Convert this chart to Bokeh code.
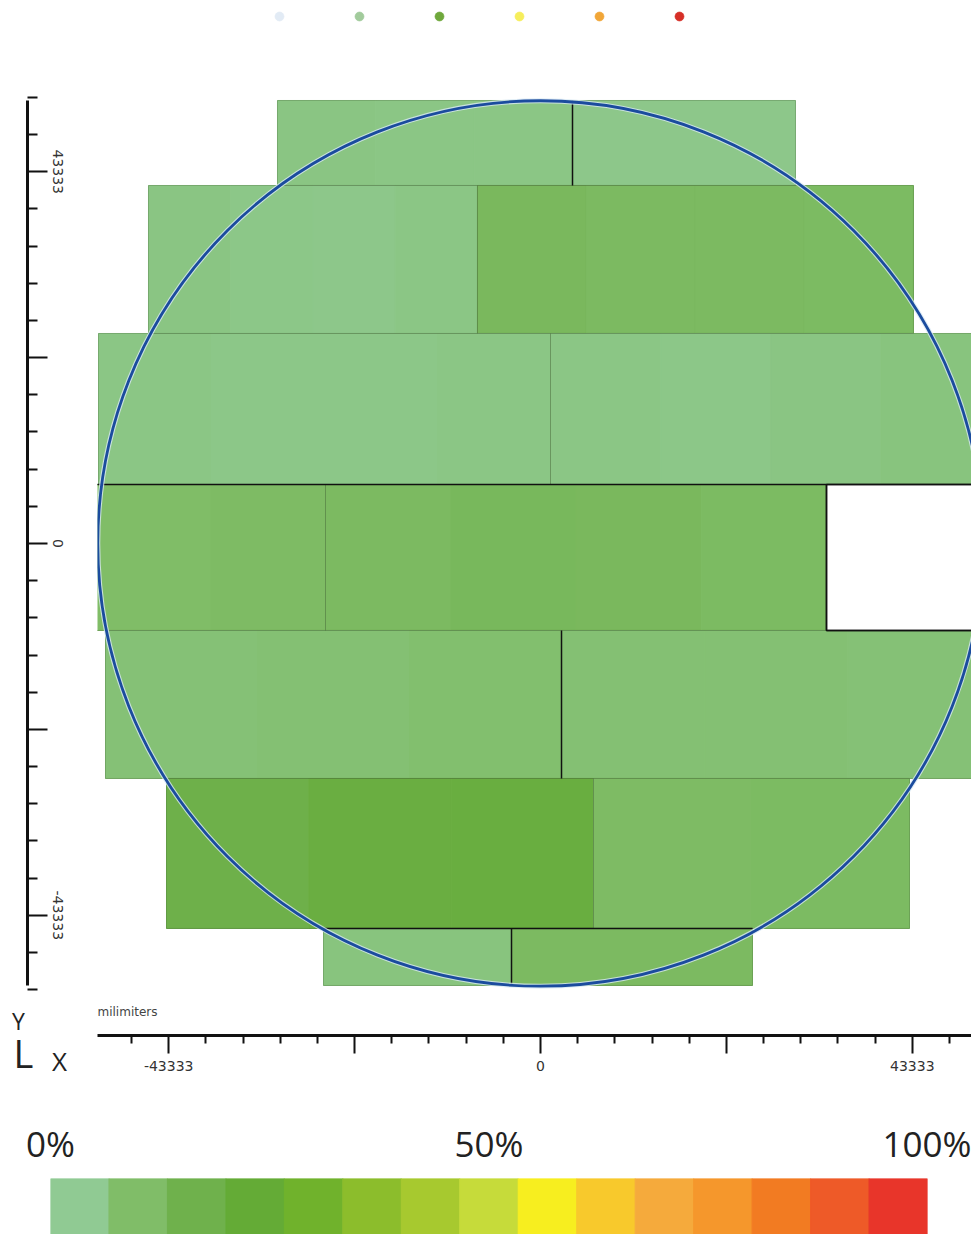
import numpy as np
from bokeh.plotting import figure
from bokeh.models import (Range1d, FactorRange, LinearAxis, FixedTicker, Label,
                          LinearColorMapper, ColumnDataSource, PrintfTickFormatter)
from bokeh.transform import transform
from bokeh.layouts import column, row
from bokeh.embed import file_html
from bokeh.resources import INLINE

# ---------------- data ----------------
legend_bins = ["bin 1", "bin 2", "bin 3", "bin 4", "bin 5", "bin 6"]
legend_colors = ["#e2ebf5", "#a2cb9c", "#6fa83c", "#f6ee5c", "#f1a638", "#d62f27"]

scale_colors = ["#90ca93", "#80bd68", "#6fb14c", "#64ab36", "#70b22c",
                "#8cbd2c", "#a7c92f", "#c6db3a", "#f7ee1f", "#f8c92c",
                "#f5aa3c", "#f5972c", "#f27b22", "#ee5a28", "#e8352a"]
scale_ticks = [0, 50, 100]

# exposure-field rows (y extents)
row_top = [51632, 41725, 24476, 6876, -10140, -27389, -44872]
row_bottom = [41725, 24476, 6876, -10140, -27389, -44872, -51515]

# fields: row index, x extent, per-column fill percentage
field_row = [0, 0, 1, 1, 2, 2, 3, 3, 4, 4, 5, 5, 6, 6]
field_left = [-30653, 3730, -45688, -7343, -51515, 1166, -51748, -25058,
              -50699, 2448, -43590, 6177, -25291, -3380]
field_right = [3730, 29720, -7343, 43473, 1166, 52500, -25058, 33333,
               2448, 52500, 6177, 43007, -3380, 24709]
field_pct = [[6.0, 5.8, 5.5], [5.0, 4.8],
             [6.0, 5.2, 4.8, 5.8], [12.5, 12.0, 12.0, 11.5],
             [5.5, 5.2, 5.2, 5.5], [5.6, 5.2, 6.0, 6.8],
             [10.5, 11.0], [12.0, 13.0, 12.5, 11.5],
             [8.0, 8.3, 9.0], [8.5, 8.3, 8.0],
             [17.5, 20.0, 20.5], [11.0, 11.5],
             [7.0], [12.0]]

# missing field (no data)
missing_row = [3]
missing_left = [33333]
missing_right = [52500]

# stitched-field boundaries
seg_x0 = [3730, -51748, 33333, 33333, 2448, -25291, -3380]
seg_y0 = [41725, 6876, -10140, -10140, -27389, -44872, -51515]
seg_x1 = [3730, 52500, 33333, 52500, 2448, 24709, -3380]
seg_y1 = [51632, 6876, 6876, -10140, -10140, -44872, -44872]

wafer_radius = 51600

major_ticks = [-43333, -21666, 0, 21666, 43333]
minor_ticks = [round(k * 4333.3) for k in range(-12, 13) if k % 5 != 0]

# ---------------- colour scale ----------------
def hex2rgb(h):
    return [int(h[i:i + 2], 16) for i in (1, 3, 5)]

anchor_pos = [(i + 0.5) * 100 / len(scale_colors) for i in range(len(scale_colors))]
anchor_rgb = np.array([hex2rgb(c) for c in scale_colors], dtype=float)
fine_palette = []
for k in range(256):
    v = k / 255 * 100
    rgb = [np.interp(v, anchor_pos, anchor_rgb[:, j]) for j in range(3)]
    fine_palette.append("#%02x%02x%02x" % tuple(int(round(c)) for c in rgb))
mapper = LinearColorMapper(palette=fine_palette, low=0, high=100)

# build band cells from fields
bx0, bx1, by0, by1, bval = [], [], [], [], []
for r, x0, x1, vals in zip(field_row, field_left, field_right, field_pct):
    edges = np.linspace(x0, x1, len(vals) + 1)
    for i, v in enumerate(vals):
        bx0.append(edges[i]); bx1.append(edges[i + 1])
        by0.append(row_bottom[r]); by1.append(row_top[r]); bval.append(v)
bands = ColumnDataSource(dict(left=bx0, right=bx1, bottom=by0, top=by1, pct=bval))
fields = ColumnDataSource(dict(left=field_left, right=field_right,
                               bottom=[row_bottom[r] for r in field_row],
                               top=[row_top[r] for r in field_row]))

# ---------------- ranges ----------------
x_range = Range1d(-51632, 50233)
y_range = Range1d(-57343, 52214)      # main map frame
y_range_axis = Range1d(-53847, 52214)  # y-axis strip (same scale, shorter)

TOP = 63

# ---------------- main wafer map ----------------
p = figure(width=874, height=1058, x_range=x_range, y_range=y_range,
           x_axis_type=None, y_axis_type=None, output_backend="svg",
           toolbar_location=None, min_border_left=0, min_border_right=0,
           min_border_top=TOP, min_border_bottom=55)
p.outline_line_color = None
p.background_fill_color = "white"
p.border_fill_color = "white"

p.quad(left="left", right="right", bottom="bottom", top="top", source=bands,
       fill_color=transform("pct", mapper), line_color=transform("pct", mapper),
       line_width=1)
p.quad(left="left", right="right", bottom="bottom", top="top", source=fields,
       fill_color=None, line_color="#4a6a3a", line_alpha=0.3, line_width=1)
p.quad(left=missing_left, right=missing_right,
       bottom=[row_bottom[r] for r in missing_row],
       top=[row_top[r] for r in missing_row],
       fill_color="white", line_color="#111111", line_width=1.5)
p.segment(x0=seg_x0, y0=seg_y0, x1=seg_x1, y1=seg_y1,
          line_color="#111111", line_width=1.5)
p.ellipse(x=[0], y=[0], width=[2 * wafer_radius], height=[2 * wafer_radius],
          fill_color=None, line_color="#d8e8f4", line_width=5, line_alpha=0.8)
p.ellipse(x=[0], y=[0], width=[2 * wafer_radius], height=[2 * wafer_radius],
          fill_color=None, line_color="#1b4c9e", line_width=2.8)

xaxis = LinearAxis(ticker=FixedTicker(ticks=major_ticks, minor_ticks=minor_ticks),
                   bounds=(x_range.start, x_range.end),
                   major_label_overrides={-21666: "", 21666: "", -43333: "-43333"})
xaxis.axis_line_width = 3
xaxis.axis_line_color = "#111111"
xaxis.major_tick_out = 18
xaxis.major_tick_in = 0
xaxis.minor_tick_out = 8
xaxis.minor_tick_in = 0
xaxis.major_tick_line_width = 2
xaxis.minor_tick_line_width = 2
xaxis.major_tick_line_color = "#111111"
xaxis.minor_tick_line_color = "#111111"
xaxis.major_label_text_font = "DejaVu Sans"
xaxis.major_label_text_font_size = "14px"
xaxis.major_label_text_color = "#333333"
xaxis.major_label_standoff = 7
p.add_layout(xaxis, "below")

p.add_layout(Label(x=x_range.start, y=-54546, text="milimiters", text_align="left",
                   text_baseline="alphabetic", text_font="DejaVu Sans",
                   text_font_size="12px", text_color="#444444"))

# ---------------- y-axis strip ----------------
yf = figure(width=97, height=973, x_range=Range1d(0, 27), y_range=y_range_axis,
            x_axis_type=None, y_axis_type=None, output_backend="svg",
            toolbar_location=None, min_border_left=0, min_border_right=70,
            min_border_top=TOP, min_border_bottom=0)
yf.outline_line_color = None
yaxis = LinearAxis(ticker=FixedTicker(ticks=major_ticks, minor_ticks=minor_ticks),
                   bounds=(-51515, 51632),
                   major_label_overrides={-21666: "", 21666: "", -43333: "-43333"})
yaxis.axis_line_width = 3
yaxis.axis_line_color = "#111111"
yaxis.major_tick_out = 20
yaxis.major_tick_in = 0
yaxis.minor_tick_out = 10
yaxis.minor_tick_in = 0
yaxis.major_tick_line_width = 2
yaxis.minor_tick_line_width = 2
yaxis.major_tick_line_color = "#111111"
yaxis.minor_tick_line_color = "#111111"
yaxis.major_label_orientation = "vertical"
yaxis.major_label_text_font = "DejaVu Sans"
yaxis.major_label_text_font_size = "14px"
yaxis.major_label_text_color = "#333333"
yaxis.major_label_standoff = 5
yf.add_layout(yaxis, "right")

# ---------------- orientation icon (Y / L X) ----------------
icon = figure(width=97, height=85, x_range=Range1d(0, 97), y_range=Range1d(85, 0),
              x_axis_type=None, y_axis_type=None, output_backend="svg",
              toolbar_location=None, min_border_left=0, min_border_right=0,
              min_border_top=0, min_border_bottom=0)
icon.outline_line_color = None
icon.add_layout(Label(x=18, y=15, text="Y", text_align="center",
                      text_baseline="alphabetic", text_font="Open Sans",
                      text_font_size="23px", text_color="#222222"))
icon.add_layout(Label(x=13, y=47, text="L", text_align="left",
                      text_baseline="alphabetic", text_font="Open Sans",
                      text_font_size="38px", text_color="#222222"))
icon.add_layout(Label(x=59, y=55, text="X", text_align="center",
                      text_baseline="alphabetic", text_font="Open Sans",
                      text_font_size="26px", text_color="#222222"))

# ---------------- legend dots ----------------
d = figure(width=971, height=32, x_range=FactorRange(*legend_bins),
           y_range=FactorRange("bins"), x_axis_type=None, y_axis_type=None,
           output_backend="svg", toolbar_location=None,
           min_border_left=239, min_border_right=252, min_border_top=0, min_border_bottom=0)
d.outline_line_color = None
d.scatter(x=legend_bins, y=["bins"] * len(legend_bins), size=9,
          fill_color=legend_colors, line_color=legend_colors, line_alpha=0.6)

# ---------------- colour bar ----------------
cb = figure(width=971, height=144, x_range=Range1d(0, 100), y_range=Range1d(0, 1),
            x_axis_type=None, y_axis_type=None, output_backend="svg",
            toolbar_location=None, min_border_left=50, min_border_right=44,
            min_border_top=88, min_border_bottom=0)
cb.outline_line_color = None
n = len(scale_colors)
cb.quad(left=[i * 100 / n for i in range(n)], right=[(i + 1) * 100 / n for i in range(n)],
        bottom=0, top=1, fill_color=scale_colors, line_color=scale_colors, line_width=1)
cax = LinearAxis(ticker=FixedTicker(ticks=scale_ticks),
                 formatter=PrintfTickFormatter(format="%d%%"))
cax.axis_line_color = None
cax.major_tick_line_color = None
cax.minor_tick_line_color = None
cax.major_label_text_font = "Open Sans"
cax.major_label_text_font_size = "35px"
cax.major_label_text_color = "#222222"
cax.major_label_standoff = 6
cb.add_layout(cax, "above")

layout = column(row(d), row(column(yf, row(icon)), p), row(cb))
open("out.html", "w").write(file_html(layout, INLINE))
